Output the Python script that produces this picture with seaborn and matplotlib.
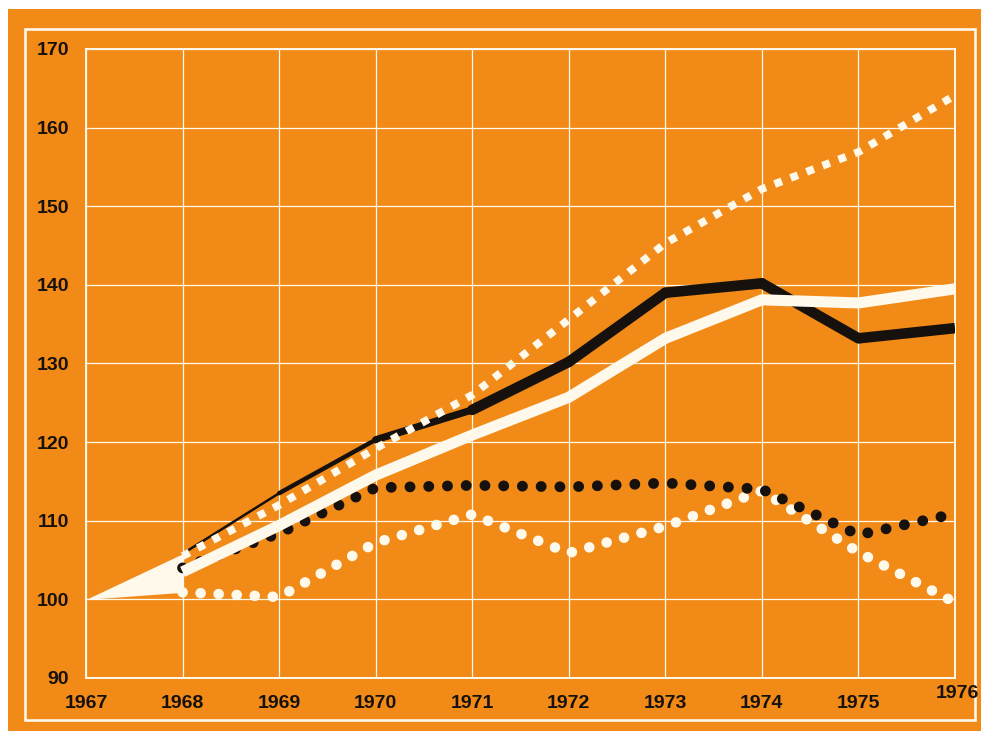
import numpy as np
import pandas as pd
import matplotlib
matplotlib.use("Agg")
import matplotlib.pyplot as plt
import matplotlib.transforms as mtransforms
from matplotlib.patches import Rectangle
import seaborn as sns

# values (index, 1967 = 100)
years = [1967, 1968, 1969, 1970, 1971, 1972, 1973, 1974, 1975, 1976]
black_solid = [100, 105.8, 113.5, 120.3, 124.1, 130.2, 139.0, 140.2, 133.2, 134.5]
white_solid = [100, 103.5, 109.4, 115.8, 120.9, 125.7, 133.2, 138.1, 137.7, 139.5]
white_squares = [100, 105.5, 112.0, 119.2, 126.0, 135.6, 145.3, 152.2, 156.9, 164.1]
black_dots = [100, 104.0, 108.4, 114.2, 114.5, 114.3, 114.8, 114.0, 108.2, 110.9]
white_dots = [100, 100.9, 100.3, 107.2, 110.8, 105.9, 109.3, 113.8, 106.0, 99.6]

y_ticks = [90, 100, 110, 120, 130, 140, 150, 160, 170]

ORANGE = "#F28A18"
WHITE = "#FFF9EC"
BLACK = "#17110D"

sns.set_style("white")
plt.rcParams["font.family"] = ["Liberation Sans", "DejaVu Sans"]

df = pd.DataFrame({
    "year": years,
    "black_solid": black_solid,
    "white_solid": white_solid,
    "white_squares": white_squares,
    "black_dots": black_dots,
    "white_dots": white_dots,
})

fig = plt.figure(figsize=(9.81, 7.31), dpi=100)
fig.patch.set_facecolor("white")
# scanned paper edge + orange sheet + white frame (kept behind the axes)
fig.patches.append(Rectangle((8 / 981, 0), 1, 1 - 9 / 731, transform=fig.transFigure,
                             facecolor=ORANGE, edgecolor="none", zorder=-3))
fig.patches.append(Rectangle((25 / 981, 1 - 720 / 731), 950 / 981, 691 / 731,
                             transform=fig.transFigure, facecolor="none",
                             edgecolor=WHITE, lw=1.9, zorder=-2))

ax = fig.add_axes([86 / 981, 1 - 678 / 731, 869 / 981, 629 / 731])
ax.set_facecolor(ORANGE)

series_cols = ["black_solid", "white_solid", "white_squares", "black_dots", "white_dots"]

# 1967-1968: all series fan out from 100 as one white wedge
first = df.iloc[:2]
ax.fill_between(first["year"], first[series_cols].min(axis=1), first[series_cols].max(axis=1),
                color=WHITE, lw=0, zorder=2)

rest = df.iloc[1:]

# round dots = near-zero dashes with round caps
sns.lineplot(data=rest, x="year", y="white_dots", ax=ax, color=WHITE, linewidth=7.6,
             linestyle=(0, (0.01, 1.7)), dash_capstyle="round", zorder=3)
sns.lineplot(data=rest, x="year", y="black_dots", ax=ax, color=BLACK, linewidth=7.8,
             linestyle=(0, (0.01, 1.72)), dash_capstyle="round", zorder=4)

# black solid line tapers in from 1968
widths = [1.8, 3.2, 5.2, 7.6, 7.6, 7.6, 7.6, 7.6]
for i, w in enumerate(widths):
    seg = df.iloc[i + 1:i + 3]
    sns.lineplot(data=seg, x="year", y="black_solid", ax=ax, color=BLACK, linewidth=w,
                 solid_capstyle="round" if i < len(widths) - 1 else "butt",
                 solid_joinstyle="round", zorder=5)

sns.lineplot(data=rest, x="year", y="white_solid", ax=ax, color=WHITE, linewidth=8.0,
             solid_capstyle="butt", solid_joinstyle="round", zorder=6)
sns.lineplot(data=rest, x="year", y="white_squares", ax=ax, color=WHITE, linewidth=5.6,
             linestyle=(0, (1, 1.2)), dash_capstyle="butt", zorder=7)

ax.set_xlim(1967, 1976)
ax.set_ylim(90, 170)
ax.set_xticks(years)
ax.set_yticks(y_ticks)
ax.set_xticklabels([str(y) for y in years])
ax.set_yticklabels([str(v) for v in y_ticks])
ax.set_xlabel("")
ax.set_ylabel("")

ax.grid(True, color=WHITE, lw=0.9)
ax.set_axisbelow(True)
for s in ax.spines.values():
    s.set_visible(True)
    s.set_color(WHITE)
    s.set_linewidth(1.4)

ax.tick_params(axis="both", length=0, labelsize=14, labelcolor=BLACK)
ax.tick_params(axis="y", pad=12)
ax.tick_params(axis="x", pad=12)
for lbl in ax.get_xticklabels() + ax.get_yticklabels():
    lbl.set_fontweight("bold")

# last year label sits a little higher in the original
last = ax.get_xticklabels()[-1]
last.set_transform(last.get_transform() +
                   mtransforms.ScaledTranslation(2 / 72, 7 / 72, fig.dpi_scale_trans))

fig.savefig("out.png", dpi=100, facecolor=fig.get_facecolor())
